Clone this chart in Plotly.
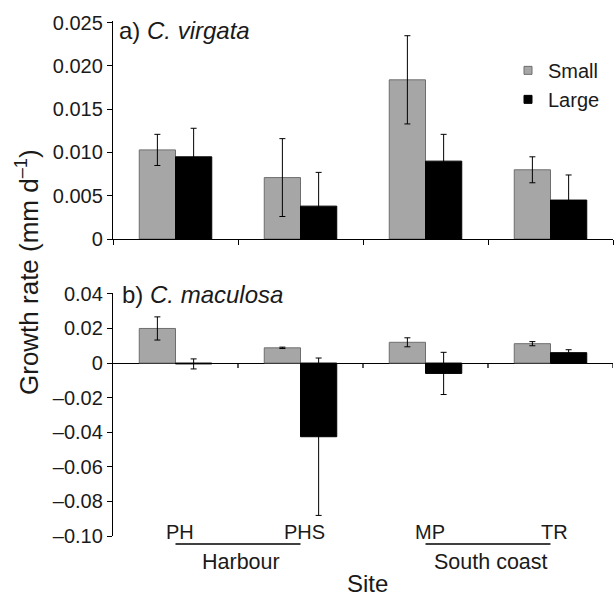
import plotly.graph_objects as go

# ---------------- data ----------------
sites = ["PH", "PHS", "MP", "TR"]
groups = {"Harbour": ["PH", "PHS"], "South coast": ["MP", "TR"]}

virgata_small = [0.0103, 0.0071, 0.0184, 0.0080]
virgata_small_err = [0.0018, 0.0045, 0.0051, 0.0015]
virgata_large = [0.0095, 0.0038, 0.0090, 0.0045]
virgata_large_err = [0.0033, 0.0039, 0.0031, 0.0029]

maculosa_small = [0.0200, 0.0088, 0.0120, 0.0112]
maculosa_small_err = [0.0067, 0.0004, 0.0026, 0.0012]
maculosa_large = [-0.0005, -0.0426, -0.0060, 0.0060]
maculosa_large_err = [0.0029, 0.0455, 0.0122, 0.0017]

top_ticks = [0, 0.005, 0.010, 0.015, 0.020, 0.025]
top_ticktext = ["0", "0.005", "0.010", "0.015", "0.020", "0.025"]
bot_ticks = [0.04, 0.02, 0, -0.02, -0.04, -0.06, -0.08, -0.10]
bot_ticktext = ["0.04", "0.02", "0", "–0.02", "–0.04", "–0.06", "–0.08", "–0.10"]

# ---------------- style ----------------
FONT = "Liberation Sans, Arial, Helvetica, sans-serif"
GRAY = "#a6a6a6"
GRAY_EDGE = "#6e6e6e"
BLACK = "#000000"
TXT = "#1a1a1a"

W, H = 616, 597
ML, MR, MT, MB = 113, 3, 21, 61
plot_h = H - MT - MB
top_dom = [(H - MB - 239) / plot_h, 1.0]
bot_dom = [0.0, (H - MB - 293) / plot_h]

fig = go.Figure()


def err(vals):
    return dict(type="data", array=vals, visible=True, color=BLACK,
                thickness=1, width=3)


fig.add_trace(go.Bar(x=sites, y=virgata_small, error_y=err(virgata_small_err),
                     marker=dict(color=GRAY, line=dict(color=GRAY_EDGE, width=1)),
                     xaxis="x", yaxis="y", showlegend=False, name="Small"))
fig.add_trace(go.Bar(x=sites, y=virgata_large, error_y=err(virgata_large_err),
                     marker=dict(color=BLACK, line=dict(color=BLACK, width=1)),
                     xaxis="x", yaxis="y", showlegend=False, name="Large"))
fig.add_trace(go.Bar(x=sites, y=maculosa_small, error_y=err(maculosa_small_err),
                     marker=dict(color=GRAY, line=dict(color=GRAY_EDGE, width=1)),
                     xaxis="x2", yaxis="y2", showlegend=False, name="Small"))
fig.add_trace(go.Bar(x=sites, y=maculosa_large, error_y=err(maculosa_large_err),
                     marker=dict(color=BLACK, line=dict(color=BLACK, width=1)),
                     xaxis="x2", yaxis="y2", showlegend=False, name="Large"))

# legend entries (small square swatches)
fig.add_trace(go.Scatter(x=[None], y=[None], mode="markers", name="Small",
                         marker=dict(symbol="square", size=8, color=GRAY,
                                     line=dict(color=GRAY_EDGE, width=1)),
                         xaxis="x", yaxis="y"))
fig.add_trace(go.Scatter(x=[None], y=[None], mode="markers", name="Large",
                         marker=dict(symbol="square", size=8, color=BLACK,
                                     line=dict(color=BLACK, width=1)),
                         xaxis="x", yaxis="y"))

axis_common = dict(linecolor=BLACK, linewidth=1.3, tickcolor=BLACK, tickwidth=1.3,
                   showgrid=False, tickfont=dict(family=FONT, size=20, color=TXT))

fig.update_layout(
    width=W, height=H,
    margin=dict(l=ML, r=MR, t=MT, b=MB),
    paper_bgcolor="white", plot_bgcolor="white",
    barmode="group", bargap=0.42, bargroupgap=0.0,
    font=dict(family=FONT, size=20, color=TXT),
    xaxis=dict(domain=[0, 1], anchor="y", type="category", categoryorder="array",
               categoryarray=sites, range=[-0.5, 3.5], showline=True,
               ticks="outside", ticklen=5, tickson="boundaries",
               showticklabels=False, zeroline=False, **axis_common),
    yaxis=dict(domain=top_dom, anchor="x", range=[0, 0.0252], showline=True,
               ticks="outside", ticklen=5, tickvals=top_ticks, ticktext=top_ticktext,
               zeroline=False, **axis_common),
    xaxis2=dict(domain=[0, 1], anchor="y2", type="category", categoryorder="array",
                categoryarray=sites, range=[-0.5, 3.5], showline=False,
                ticks="", showticklabels=False, zeroline=False, showgrid=False),
    yaxis2=dict(domain=bot_dom, anchor="x2", range=[-0.10, 0.0405], showline=True,
                ticks="outside", ticklen=5, tickvals=bot_ticks, ticktext=bot_ticktext,
                zeroline=True, zerolinecolor=BLACK, zerolinewidth=1.3, **axis_common),
    legend=dict(x=0.79, xanchor="left", y=0.942, yanchor="top",
                font=dict(family=FONT, size=20, color=TXT),
                bgcolor="rgba(0,0,0,0)", itemwidth=30, tracegroupgap=0),
)

shapes = []
# boundary ticks on the zero line of panel b
for b in [i - 0.5 for i in range(len(sites) + 1)][1:]:
    shapes.append(dict(type="line", xref="x2", yref="y2", ysizemode="pixel",
                       yanchor=0, x0=b, x1=b, y0=0, y1=-5,
                       line=dict(color=BLACK, width=1.3)))
annotations = []
# site labels
for i, s in enumerate(sites):
    annotations.append(dict(text=s, xref="x2", yref="y2", x=i, y=-0.10,
                            yanchor="middle", xanchor="center", xshift=4, yshift=4,
                            showarrow=False, font=dict(family=FONT, size=20, color=TXT)))
# group lines and labels
for g, members in groups.items():
    i0, i1 = sites.index(members[0]), sites.index(members[-1])
    shapes.append(dict(type="line", xref="x2", yref="paper", x0=i0, x1=i1,
                       y0=-8 / plot_h, y1=-8 / plot_h, line=dict(color=BLACK, width=1.5)))
    annotations.append(dict(text=g, xref="x2", yref="paper", x=(i0 + i1) / 2,
                            y=-26 / plot_h, yanchor="middle", xanchor="center",
                            xshift=3, showarrow=False,
                            font=dict(family=FONT, size=21.5, color=TXT)))
# panel titles
annotations.append(dict(text="a) <i>C. virgata</i>", xref="paper", yref="paper",
                        x=4 / 500, y=(H - MB - 31) / plot_h, xanchor="left", yanchor="middle",
                        showarrow=False, font=dict(family=FONT, size=24, color=TXT)))
annotations.append(dict(text="b) <i>C. maculosa</i>", xref="paper", yref="paper",
                        x=7 / 500, y=(H - MB - 294) / plot_h, xanchor="left", yanchor="middle",
                        showarrow=False, font=dict(family=FONT, size=24, color=TXT)))
# axis titles
annotations.append(dict(text="Site", xref="paper", yref="paper", x=(367 - ML) / 500,
                        y=(H - MB - 583) / plot_h, xanchor="center", yanchor="middle",
                        showarrow=False, font=dict(family=FONT, size=24, color=TXT)))
annotations.append(dict(text="Growth rate (mm d<sup>–1</sup>)", xref="paper", yref="paper",
                        x=(27 - ML) / 500, y=(H - MB - 272) / plot_h, textangle=-90,
                        xanchor="center", yanchor="middle", showarrow=False,
                        font=dict(family=FONT, size=26, color=TXT)))

fig.update_layout(shapes=shapes, annotations=annotations)
fig.write_html("out.html")
